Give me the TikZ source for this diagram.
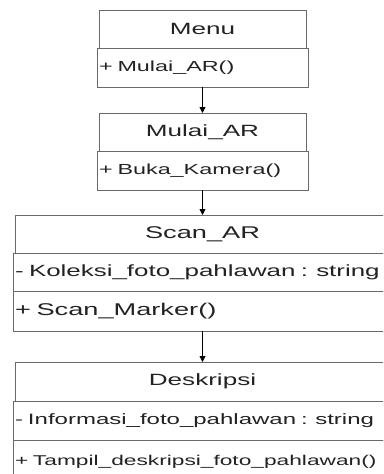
\documentclass[tikz,border=0pt]{standalone}
\usepackage{fontspec}
\newfontfamily\umlfont[FakeStretch=1.6]{Liberation Sans}
\usetikzlibrary{positioning,arrows.meta}
\definecolor{umlline}{HTML}{6A6A6A}
\definecolor{umltext}{HTML}{222222}
\newcommand{\umlsize}[1]{\umlfont\fontsize{#1}{#1}\selectfont}
\tikzset{
  part/.style={draw=umlline,line width=0.9pt,inner sep=0pt,outer sep=0pt,text=umltext},
  cname/.style={part,align=center,font=\umlsize{16.3}},
  cmember/.style={part,align=left,inner xsep=2pt,font=\umlsize{14.6}},
  narrow/.style={text width=207pt},
  wide/.style={text width=375pt},
  flow/.style={draw=black,line width=0.8pt,-{Triangle[length=6pt,width=6pt]}},
}

\begin{document}
\begin{tikzpicture}[x=1pt,y=1pt]
  \useasboundingbox (0,0) rectangle (383,-474);
  \clip (0,0) rectangle (383,-474);

  % Menu
  \node[cname,narrow,minimum height=38pt,anchor=north] (menu) at (202.5,-10) {Menu};
  \node[cmember,narrow,minimum height=39pt,below=0pt of menu] (menu-ops) {+ Mulai\_AR()};

  % Mulai_AR
  \node[cname,narrow,minimum height=38pt,anchor=north] (mulai) at (202.5,-113) {Mulai\_AR};
  \node[cmember,narrow,minimum height=39pt,below=0pt of mulai] (mulai-ops) {+ Buka\_Kamera()};

  % Scan_AR
  \node[cname,wide,minimum height=38pt,anchor=north,font=\umlsize{17}] (scan) at (202.5,-215) {Scan\_AR};
  \node[cmember,wide,minimum height=38pt,below=0pt of scan,font=\umlsize{16.2}] (scan-attr) {- Koleksi\_foto\_pahlawan : string};
  \node[cmember,wide,minimum height=40pt,below=0pt of scan-attr,font=\umlsize{17}] (scan-ops) {+ Scan\_Marker()};

  % Deskripsi
  \node[cname,wide,minimum height=39pt,anchor=north] (desk) at (202.5,-362) {Deskripsi};
  \node[cmember,wide,minimum height=39pt,below=0pt of desk,font=\umlsize{15}] (desk-attr) {- Informasi\_foto\_pahlawan : string};
  \node[cmember,wide,minimum height=44pt,below=0pt of desk-attr,font=\umlsize{14.2}] (desk-ops) {+ Tampil\_deskripsi\_foto\_pahlawan()};

  \draw[flow] (menu-ops) -- (mulai);
  \draw[flow] (mulai-ops) -- (scan);
  \draw[flow] (scan-ops) -- (desk);
\end{tikzpicture}
\end{document}
